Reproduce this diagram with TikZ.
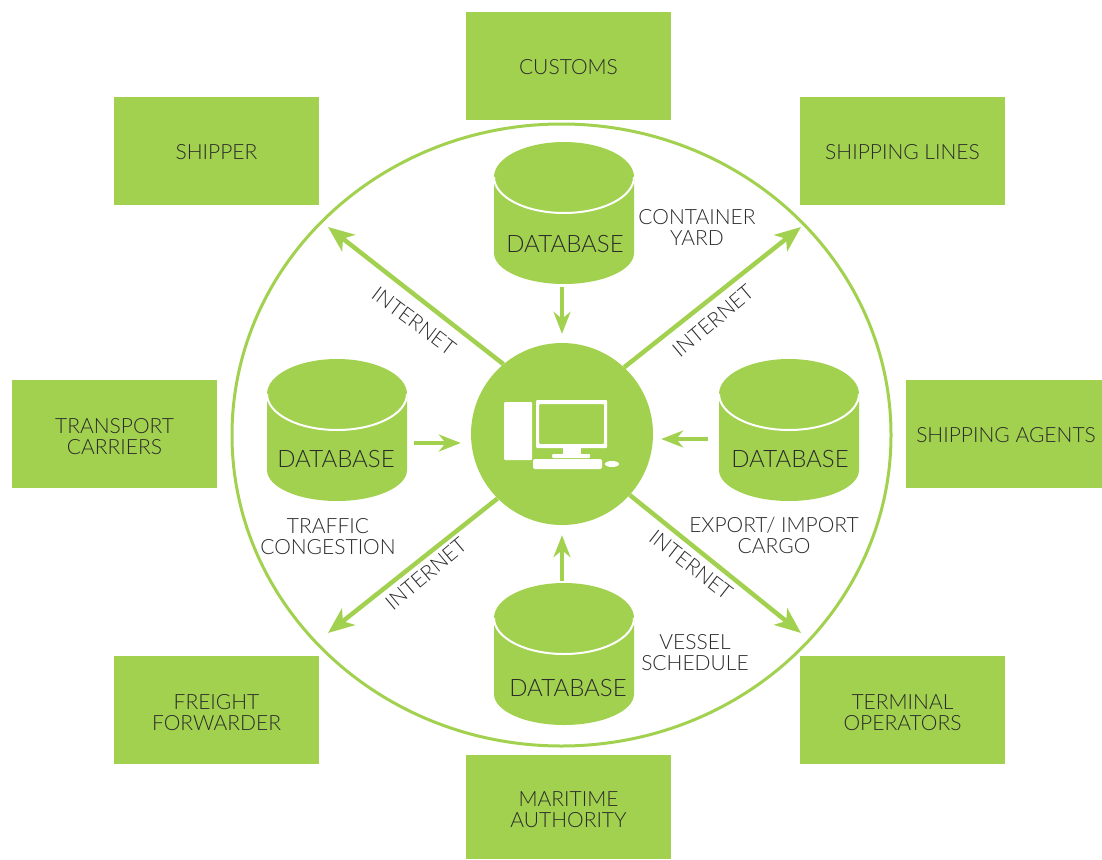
\documentclass[tikz,border=0pt]{standalone}
\usepackage{fontspec}
\setmainfont{Lato Light}
\usetikzlibrary{arrows.meta,shapes.geometric}
\definecolor{leaf}{HTML}{A2D14F}
\definecolor{ink}{HTML}{2B2B2B}
\begin{document}
\begin{tikzpicture}[
    x=1pt, y=-1pt,
    box/.style={rectangle, fill=leaf, text=ink, minimum width=205pt, minimum height=108pt, inner sep=0pt, align=center, font=\fontsize{21}{21}\selectfont, execute at begin node=\rule{0pt}{18pt}},
    dbase/.style={rectangle, minimum width=140pt, minimum height=142pt, inner sep=0pt, path picture={
        \fill[leaf] (path picture bounding box.north west) ++(0,-35pt) arc[start angle=180, end angle=0, x radius=70pt, y radius=35pt] -- ++(0,-76pt) arc[start angle=0, end angle=-180, x radius=70pt, y radius=31pt] -- cycle;
        \draw[white, line width=2pt] (path picture bounding box.north west) ++(0,-35pt) arc[start angle=180, end angle=360, x radius=70pt, y radius=36pt];
    }},
    dbtext/.style={text=ink, font=\fontsize{24}{24}\selectfont},
    caption/.style={text=ink, align=center, inner sep=0pt, font=\fontsize{21}{21}\selectfont},
    wire/.style={leaf, line width=4.5pt, -{Stealth[length=26pt, width=21pt, inset=7pt]}},
    feed/.style={leaf, line width=3.5pt, -{Stealth[length=22pt, width=17pt, inset=7pt]}},
    icon/.style={fill=white, draw=none}
]
    \useasboundingbox (0,0) rectangle (1102,859);

    % Nodes
    \node[ellipse, draw=leaf, line width=3pt, minimum width=659pt, minimum height=622pt, inner sep=0pt] (ring) at (561.5,435) {};
    \node[circle, fill=leaf, minimum size=182pt, inner sep=0pt] (hub) at (562,434) {};

    \node[box] (customs) at (568.5,66) {CUSTOMS};
    \node[box] (shipper) at (216.5,151) {SHIPPER};
    \node[box] (lines) at (902.5,151) {SHIPPING LINES};
    \node[box] (carriers) at (114.5,434) {\rule{0pt}{20pt}TRANSPORT\\CARRIERS};
    \node[box, minimum width=196pt] (agents) at (1004,434) {\hspace*{4pt}SHIPPING AGENTS};
    \node[box] (freight) at (216.5,710) {\rule{0pt}{21pt}FREIGHT\\FORWARDER};
    \node[box] (terminal) at (902.5,710) {\rule{0pt}{21pt}TERMINAL\\OPERATORS};
    \node[box, minimum height=104pt] (maritime) at (568.5,807) {\rule{0pt}{21pt}MARITIME\\AUTHORITY};

    \node[dbase, label={[dbtext, xshift=1pt, yshift=-31pt]center:DATABASE}] (dbYard) at (564,213) {};
    \node[dbase, label={[dbtext, xshift=-1pt, yshift=-29pt]center:DATABASE}] (dbTraffic) at (337,430) {};
    \node[dbase, label={[dbtext, xshift=1pt, yshift=-29pt]center:DATABASE}] (dbCargo) at (789,430) {};
    \node[dbase, label={[dbtext, xshift=4pt, yshift=-34pt]center:DATABASE}] (dbVessel) at (564,654) {};

    \node[caption] (yard) at (697,227.5) {CONTAINER\\YARD};
    \node[caption] (traffic) at (328,537) {TRAFFIC\\CONGESTION};
    \node[caption] (cargo) at (774,535) {EXPORT/ IMPORT\\CARGO};
    \node[caption] (vessel) at (695,653) {VESSEL\\SCHEDULE};

    \node[caption, rotate=-37] (netNW) at (414,321) {INTERNET};
    \node[caption, rotate=40] (netNE) at (713,321) {INTERNET};
    \node[caption, rotate=40] (netSW) at (426,574) {INTERNET};
    \node[caption, rotate=-38] (netSE) at (691,565) {INTERNET};

    \coordinate (tipNW) at (328,227);
    \coordinate (tipNE) at (801,227);
    \coordinate (tipSW) at (328,633);
    \coordinate (tipSE) at (801,633);

    % Arrows
    \draw[wire] (hub.130) -- (tipNW);
    \draw[wire] (hub.47) -- (tipNE);
    \draw[wire] (hub.225) -- (tipSW);
    \draw[wire] (hub.-42) -- (tipSE);
    \draw[feed, shorten <=3pt, shorten >=9pt] (dbYard.south -| hub.north) -- (hub.north);
    \draw[feed, shorten <=7pt, shorten >=10pt] ([yshift=-9pt]dbTraffic.east |- hub.west) -- ([yshift=-9pt]hub.west);
    \draw[feed, shorten <=11pt, shorten >=8pt] ([yshift=-5pt]dbCargo.west |- hub.east) -- ([yshift=-5pt]hub.east);
    \draw[feed, shorten <=2pt, shorten >=10pt] (dbVessel.north -| hub.south) -- (hub.south);

    % Computer
    \fill[icon, rounded corners=1pt] (504,402) rectangle (532,460);
    \fill[icon, rounded corners=1pt, even odd rule] (536,400) rectangle (607,448) (539,404) rectangle (604,444);
    \fill[icon] (563,448) rectangle (581,455);
    \fill[icon, rounded corners=1pt] (552,454) rectangle (590,458);
    \fill[icon, rounded corners=2pt] (533,459) rectangle (602,469);
    \fill[icon] (612,464) ellipse[x radius=7pt, y radius=3pt];
\end{tikzpicture}
\end{document}
